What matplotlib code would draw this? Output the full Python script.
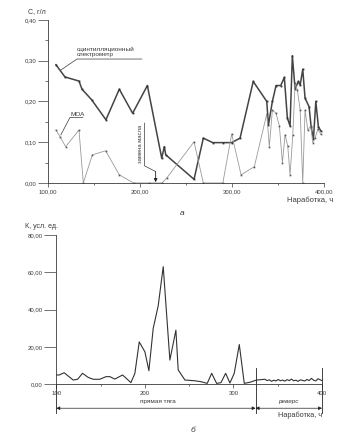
import matplotlib
matplotlib.use('Agg')
import matplotlib.pyplot as plt
from matplotlib.ticker import MultipleLocator

plt.rcParams['font.family'] = ['Liberation Sans', 'DejaVu Sans']

# --- panel a: oil contamination, two methods ---
spec_h = [108.7, 118.5, 133.7, 137.0, 147.5, 163.0, 177.5, 192.0, 208.0, 223.6,
          226.4, 228.0, 258.7, 268.8, 279.0, 290.0, 299.6, 308.7, 323.0, 337.7,
          339.5, 343.8, 347.8, 352.9, 356.8, 360.1, 363.0, 365.5, 368.5, 372.0,
          374.0, 376.8, 379.3, 383.7, 385.9, 388.4, 391.0, 393.8, 396.4]
spec_c = [0.290, 0.260, 0.250, 0.230, 0.204, 0.155, 0.230, 0.171, 0.239, 0.061,
          0.089, 0.069, 0.009, 0.110, 0.099, 0.099, 0.099, 0.110, 0.249, 0.200,
          0.142, 0.200, 0.239, 0.239, 0.259, 0.159, 0.140, 0.312, 0.230, 0.249,
          0.240, 0.279, 0.208, 0.187, 0.138, 0.107, 0.200, 0.138, 0.128]

moa_h = [108.7, 113.0, 119.2, 133.7, 138.4, 148.2, 162.7, 177.5, 193.0, 210.0,
         224.0, 229.0, 258.7, 268.8, 290.0, 299.6, 309.8, 324.2, 337.7, 340.5,
         343.8, 347.8, 351.4, 354.7, 357.6, 360.5, 363.0, 366.0, 368.5, 371.0,
         374.0, 376.8, 379.3, 382.3, 385.5, 387.7, 390.2, 393.2, 396.4]
moa_c = [0.130, 0.114, 0.089, 0.130, 0.000, 0.069, 0.079, 0.020, 0.000, 0.000,
         0.000, 0.012, 0.101, 0.000, 0.000, 0.120, 0.020, 0.040, 0.169, 0.089,
         0.179, 0.171, 0.140, 0.050, 0.118, 0.091, 0.020, 0.118, 0.245, 0.228,
         0.179, 0.000, 0.179, 0.130, 0.140, 0.099, 0.110, 0.132, 0.120]

c_ticks = [0.0, 0.1, 0.2, 0.3, 0.4]
c_labels = ['0,00', '0,10', '0,20', '0,30', '0,40']
a_xticks = [100, 200, 300, 400]
a_xlabels = ['100,00', '200,00', '300,00', '400,00']

# --- panel b: wear indicator ---
k_h = [100.0, 103.2, 108.8, 119.0, 124.0, 129.6, 136.0, 141.6, 149.0, 156.0,
       160.5, 166.0, 174.8, 184.2, 188.7, 193.6, 200.0, 204.5, 209.4, 215.0,
       220.7, 228.2, 235.0, 237.6, 245.2, 256.5, 263.3, 270.4, 275.4, 281.0,
       285.9, 291.2, 296.0, 300.9, 306.6, 312.2, 318.6, 326.2, 335.6,
       338.0, 340.5, 343.0, 345.5, 348.0, 350.5, 353.0, 355.5, 358.0, 360.5,
       363.0, 365.5, 368.0, 370.5, 373.0, 375.5, 378.0, 380.5, 383.0, 385.5,
       388.0, 390.5, 393.0, 395.5, 398.0, 400.0]
k_val = [5.0, 5.0, 6.2, 2.3, 2.7, 5.9, 3.7, 2.7, 2.7, 4.1,
         4.1, 2.8, 5.0, 0.9, 5.9, 22.7, 17.4, 7.3, 30.0, 42.0,
         63.0, 13.0, 29.0, 7.7, 2.3, 1.9, 1.4, 0.5, 5.9, 0.5,
         0.9, 5.9, 0.7, 5.9, 21.3, 0.5, 1.1, 2.3, 2.7,
         2.0, 2.4, 1.6, 2.2, 1.8, 2.6, 1.9, 2.3, 1.7, 2.5,
         2.0, 2.8, 1.9, 2.2, 1.6, 2.4, 2.1, 1.8, 2.6, 2.0,
         3.2, 2.2, 1.8, 3.0, 2.4, 2.0]

k_ticks = [0, 20, 40, 60, 80]
k_labels = ['0,00', '20,00', '40,00', '60,00', '80,00']
b_xticks = [100, 200, 300, 400]
b_xlabels = ['100', '200', '300', '400']

reverse_start = 325

ink = '#3a3a3a'
fs_tick = 4.3
fs_text = 5.0

fig = plt.figure(figsize=(3.5, 4.42), dpi=100)

# ---------------- upper panel ----------------
ax1 = fig.add_axes([0.137, 0.586, 0.789, 0.369])
ax1.plot(spec_h, spec_c, '-', color='#444444', linewidth=1.1,
         marker='s', markersize=1.3, markerfacecolor='#333333', markeredgewidth=0)
ax1.plot(moa_h, moa_c, '-', color='#9a9a9a', linewidth=0.6,
         marker='s', markersize=1.2, markerfacecolor='#555555', markeredgewidth=0)
ax1.set_xlim(100, 400)
ax1.set_ylim(0, 0.40)
for s in ['top', 'right']:
    ax1.spines[s].set_visible(False)
for s in ['left', 'bottom']:
    ax1.spines[s].set_color(ink)
    ax1.spines[s].set_linewidth(0.6)
ax1.set_yticks(c_ticks)
ax1.set_yticklabels(c_labels)
ax1.set_xticks(a_xticks)
ax1.set_xticklabels(a_xlabels)
ax1.yaxis.set_minor_locator(MultipleLocator(0.05))
ax1.xaxis.set_minor_locator(MultipleLocator(50))
ax1.tick_params(axis='y', which='major', length=7, width=0.5, pad=1.5,
                labelsize=fs_tick, colors=ink)
ax1.tick_params(axis='y', which='minor', length=2, width=0.5, colors=ink)
ax1.tick_params(axis='x', which='major', length=3, width=0.5, pad=1.5,
                labelsize=fs_tick, colors=ink)
ax1.tick_params(axis='x', which='minor', length=1.5, width=0.5, colors=ink)

fig.text(0.08, 0.973, 'С, г/л', fontsize=fs_text, color=ink, va='center')
fig.text(0.951, 0.548, 'Наработка, ч', fontsize=fs_text + 0.5, color=ink,
         ha='right', va='center')
fig.text(0.52, 0.518, 'а', fontsize=6, style='italic', color=ink,
         ha='center', va='center')

# method labels with leaders
ax1.text(131.5, 0.308, 'сцинтилляционный\nспектрометр', fontsize=4.6,
         color=ink, va='bottom', linespacing=1.1)
ax1.plot([114, 131.5, 202], [0.277, 0.304, 0.304], color=ink, linewidth=0.5)
ax1.text(124, 0.163, 'МОА', fontsize=4.6, color=ink, va='bottom')
ax1.plot([114, 124, 138], [0.118, 0.161, 0.161], color=ink, linewidth=0.5)

# oil change marker
ax1.text(201.0, 0.095, 'замена масла', fontsize=4.2, color=ink, rotation=90,
         ha='center', va='center')
ax1.plot([205, 205, 217], [0.147, 0.042, 0.028], color=ink, linewidth=0.5)
ax1.annotate('', xy=(217, 0.002), xytext=(217, 0.028),
             arrowprops=dict(arrowstyle='-|>', color='#222222', lw=0.6,
                             mutation_scale=5, shrinkA=0, shrinkB=0),
             annotation_clip=False)

# ---------------- lower panel ----------------
ax2 = fig.add_axes([0.161, 0.1305, 0.759, 0.338])
ax2.plot(k_h, k_val, '-', color='#333333', linewidth=0.8)
ax2.set_xlim(100, 400)
ax2.set_ylim(0, 80)
for s in ['top', 'right']:
    ax2.spines[s].set_visible(False)
for s in ['left', 'bottom']:
    ax2.spines[s].set_color(ink)
    ax2.spines[s].set_linewidth(0.6)
ax2.set_yticks(k_ticks)
ax2.set_yticklabels(k_labels)
ax2.set_xticks(b_xticks)
ax2.set_xticklabels(b_xlabels)
ax2.xaxis.set_minor_locator(MultipleLocator(50))
ax2.tick_params(axis='y', which='major', length=8.5, width=0.5, pad=1.5,
                labelsize=fs_tick, colors=ink)
ax2.tick_params(axis='x', which='major', length=3, width=0.5, pad=2,
                labelsize=fs_tick, colors=ink)
ax2.tick_params(axis='x', which='minor', length=1.5, width=0.5, colors=ink)

fig.text(0.071, 0.487, 'К, усл. ед.', fontsize=fs_text, color=ink, va='center')

# operating mode dimension lines
y_dim = -12.8
for xv, y0, y1 in [(100, 0, -15.5), (reverse_start, 8.7, -15.5), (400, 8.7, -15.5)]:
    ax2.plot([xv, xv], [y0, y1], color='#222222', linewidth=0.6, clip_on=False)
for x0, x1 in [(100, reverse_start), (reverse_start, 400)]:
    ax2.annotate('', xy=(x0, y_dim), xytext=(x1, y_dim),
                 arrowprops=dict(arrowstyle='<|-|>', color='#222222', lw=0.5,
                                 mutation_scale=5, shrinkA=0, shrinkB=0),
                 annotation_clip=False)
ax2.text(215, -9.0, 'прямая тяга', fontsize=4.6, color=ink,
         ha='center', va='center', clip_on=False)
ax2.text(362, -9.0, 'реверс', fontsize=4.6, style='italic', color=ink,
         ha='center', va='center', clip_on=False)
fig.text(0.92, 0.061, 'Наработка, ч', fontsize=fs_text + 0.3, color=ink,
         ha='right', va='center')
fig.text(0.551, 0.027, 'б', fontsize=6, style='italic', color=ink,
         ha='center', va='center')

fig.savefig('out.png', dpi=100)
